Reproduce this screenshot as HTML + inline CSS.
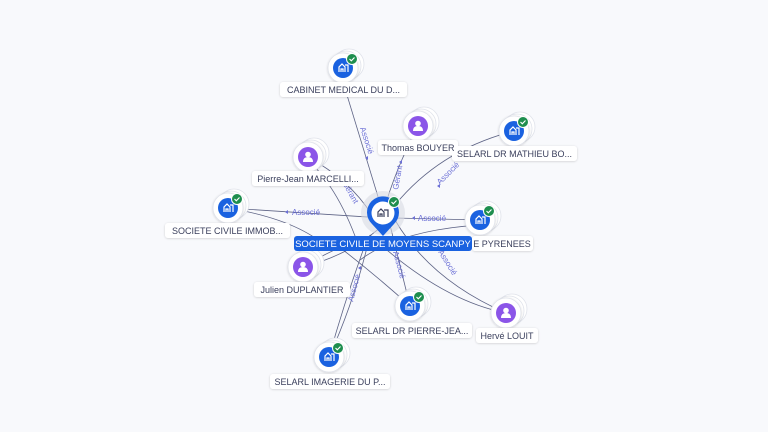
<!DOCTYPE html>
<html><head><meta charset="utf-8"><style>
html,body{margin:0;padding:0;background:#f8f9fc;}
svg{display:block;font-family:"Liberation Sans",sans-serif;}
.lbl{font-size:9px;fill:#3a3f5c;}
.el{font-size:8px;fill:#6b6fd6;}
.st{fill:#fff;stroke:#dfe2ea;stroke-width:0.8;}
</style></head><body>
<svg width="768" height="432" viewBox="0 0 768 432">
<defs>
<filter id="sh" x="-30%" y="-30%" width="160%" height="160%"><feDropShadow dx="0" dy="0.5" stdDeviation="1" flood-color="#000" flood-opacity="0.18"/></filter>
<g id="bld"><path d="M-4,4 V-1 L-1,-4 L2,-1 V4 M2,-3 H5 V4 M-2,4 V1 H0 V4" fill="none" stroke="#fff" stroke-width="1.2"/></g>
<g id="per"><circle cx="0" cy="-2.5" r="2.8" fill="#fff"/><path d="M-5,5 Q-5,0 0,0 Q5,0 5,5 Z" fill="#fff"/></g>
<g id="chk"><circle r="5.5" fill="#1e8e4e" stroke="#fff" stroke-width="1"/><path d="M-2.5,0 L-0.7,1.8 L2.5,-1.5" fill="none" stroke="#fff" stroke-width="1.1"/></g>
<g id="stk"><circle cx="6" cy="-4" r="15" class="st"/><circle cx="3" cy="-2" r="15" class="st"/><circle r="15" class="st" filter="url(#sh)"/></g>
</defs>
<g fill="none" stroke="#5d6385" stroke-width="0.8">
<path d="M343,82 L383,213"/>
<path d="M418,126 Q395,170 383,213"/>
<path d="M514,131 Q440,150 395,205"/>
<path d="M308,157 Q350,180 372,215"/>
<path d="M308,160 Q340,190 360,250"/>
<path d="M228,208 L383,218"/>
<path d="M228,208 Q300,220 330,250"/>
<path d="M480,220 L395,218"/>
<path d="M480,225 Q400,230 360,260"/>
<path d="M303,267 Q350,255 383,225"/>
<path d="M303,267 Q330,250 360,240"/>
<path d="M410,306 L390,225"/>
<path d="M410,306 Q370,270 330,240"/>
<path d="M506,313 Q430,280 395,220"/>
<path d="M506,313 Q440,300 370,235"/>
<path d="M329,357 Q355,300 370,235"/>
<path d="M329,357 Q345,300 365,245"/>
</g>
<g class="el">
<text transform="translate(360,128) rotate(72)">Associé</text>
<text transform="translate(398,190) rotate(-80)">Gérant</text>
<text transform="translate(440,185) rotate(-45)">Associé</text>
<text x="292" y="215">Associé</text>
<text x="418" y="221">Associé</text>
<text transform="translate(438,252) rotate(58)">Associé</text>
<text transform="translate(393,252) rotate(75)">Associé</text>
<text transform="translate(353,302) rotate(-75)">Associé</text>
<text transform="translate(342,183) rotate(60)">Gérant</text>
</g>
<g fill="#6b6fd6">
<path d="M365,158 l3,-2 v4z"/><path d="M399,162 l3,-2 v4z"/><path d="M437,186 l3,-2 v4z"/>
<path d="M285,212 l3,-2 v4z"/><path d="M412,218 l3,-2 v4z"/><path d="M358,268 l3,-2 v4z"/>
</g>
<circle cx="383" cy="213" r="22" fill="#d8dbe3" opacity="0.6"/>
<path d="M383,236 L372,224 A16,16 0 1 1 394,224 Z" fill="#1a62e0"/>
<circle cx="383" cy="213" r="11.5" fill="#fff"/>
<path d="M378,217 V212 L381,209 L384,212 V217 M384,210 H388 V217 M380,217 V214 H382 V217" fill="none" stroke="#3a3f5c" stroke-width="1.2"/>
<use href="#chk" x="394" y="202"/>

<g transform="translate(343,68)"><use href="#stk"/><circle r="10" fill="#1a62e0"/><use href="#bld"/><use href="#chk" x="9" y="-9"/></g>
<g transform="translate(418,126)"><use href="#stk"/><circle r="10" fill="#8b55e8"/><use href="#per"/></g>
<g transform="translate(514,131)"><use href="#stk"/><circle r="10" fill="#1a62e0"/><use href="#bld"/><use href="#chk" x="9" y="-9"/></g>
<g transform="translate(308,157)"><use href="#stk"/><circle r="10" fill="#8b55e8"/><use href="#per"/></g>
<g transform="translate(228,208)"><use href="#stk"/><circle r="10" fill="#1a62e0"/><use href="#bld"/><use href="#chk" x="9" y="-9"/></g>
<g transform="translate(480,220)"><use href="#stk"/><circle r="10" fill="#1a62e0"/><use href="#bld"/><use href="#chk" x="9" y="-9"/></g>
<g transform="translate(303,267)"><use href="#stk"/><circle r="10" fill="#8b55e8"/><use href="#per"/></g>
<g transform="translate(410,306)"><use href="#stk"/><circle r="10" fill="#1a62e0"/><use href="#bld"/><use href="#chk" x="9" y="-9"/></g>
<g transform="translate(506,313)"><use href="#stk"/><circle r="10" fill="#8b55e8"/><use href="#per"/></g>
<g transform="translate(329,357)"><use href="#stk"/><circle r="10" fill="#1a62e0"/><use href="#bld"/><use href="#chk" x="9" y="-9"/></g>

<g fill="#fff" filter="url(#sh)">
<rect x="280" y="82" width="127" height="15" rx="3"/>
<rect x="378" y="140" width="80" height="15" rx="3"/>
<rect x="452" y="146" width="125" height="15" rx="3"/>
<rect x="252" y="171" width="112" height="15" rx="3"/>
<rect x="165" y="223" width="125" height="15" rx="3"/>
<rect x="472" y="236" width="61" height="15" rx="3"/>
<rect x="254" y="282" width="96" height="15" rx="3"/>
<rect x="352" y="323" width="120" height="15" rx="3"/>
<rect x="476" y="328" width="62" height="15" rx="3"/>
<rect x="270" y="374" width="120" height="15" rx="3"/>
</g>
<rect x="294" y="236" width="178" height="15" rx="3" fill="#1a62e0"/>
<text x="383" y="247" text-anchor="middle" font-size="9.5" fill="#fff">SOCIETE CIVILE DE MOYENS SCANPY</text>
<g class="lbl" text-anchor="middle">
<text x="343.5" y="93">CABINET MEDICAL DU D...</text>
<text x="418" y="151">Thomas BOUYER</text>
<text x="514.5" y="157">SELARL DR MATHIEU BO...</text>
<text x="308" y="182">Pierre-Jean MARCELLI...</text>
<text x="227.5" y="234">SOCIETE CIVILE IMMOB...</text>
<text x="502" y="247">E PYRENEES</text>
<text x="302" y="293">Julien DUPLANTIER</text>
<text x="412" y="334">SELARL DR PIERRE-JEA...</text>
<text x="507" y="339">Hervé LOUIT</text>
<text x="330" y="385">SELARL IMAGERIE DU P...</text>
</g>
</svg>
</body></html>
